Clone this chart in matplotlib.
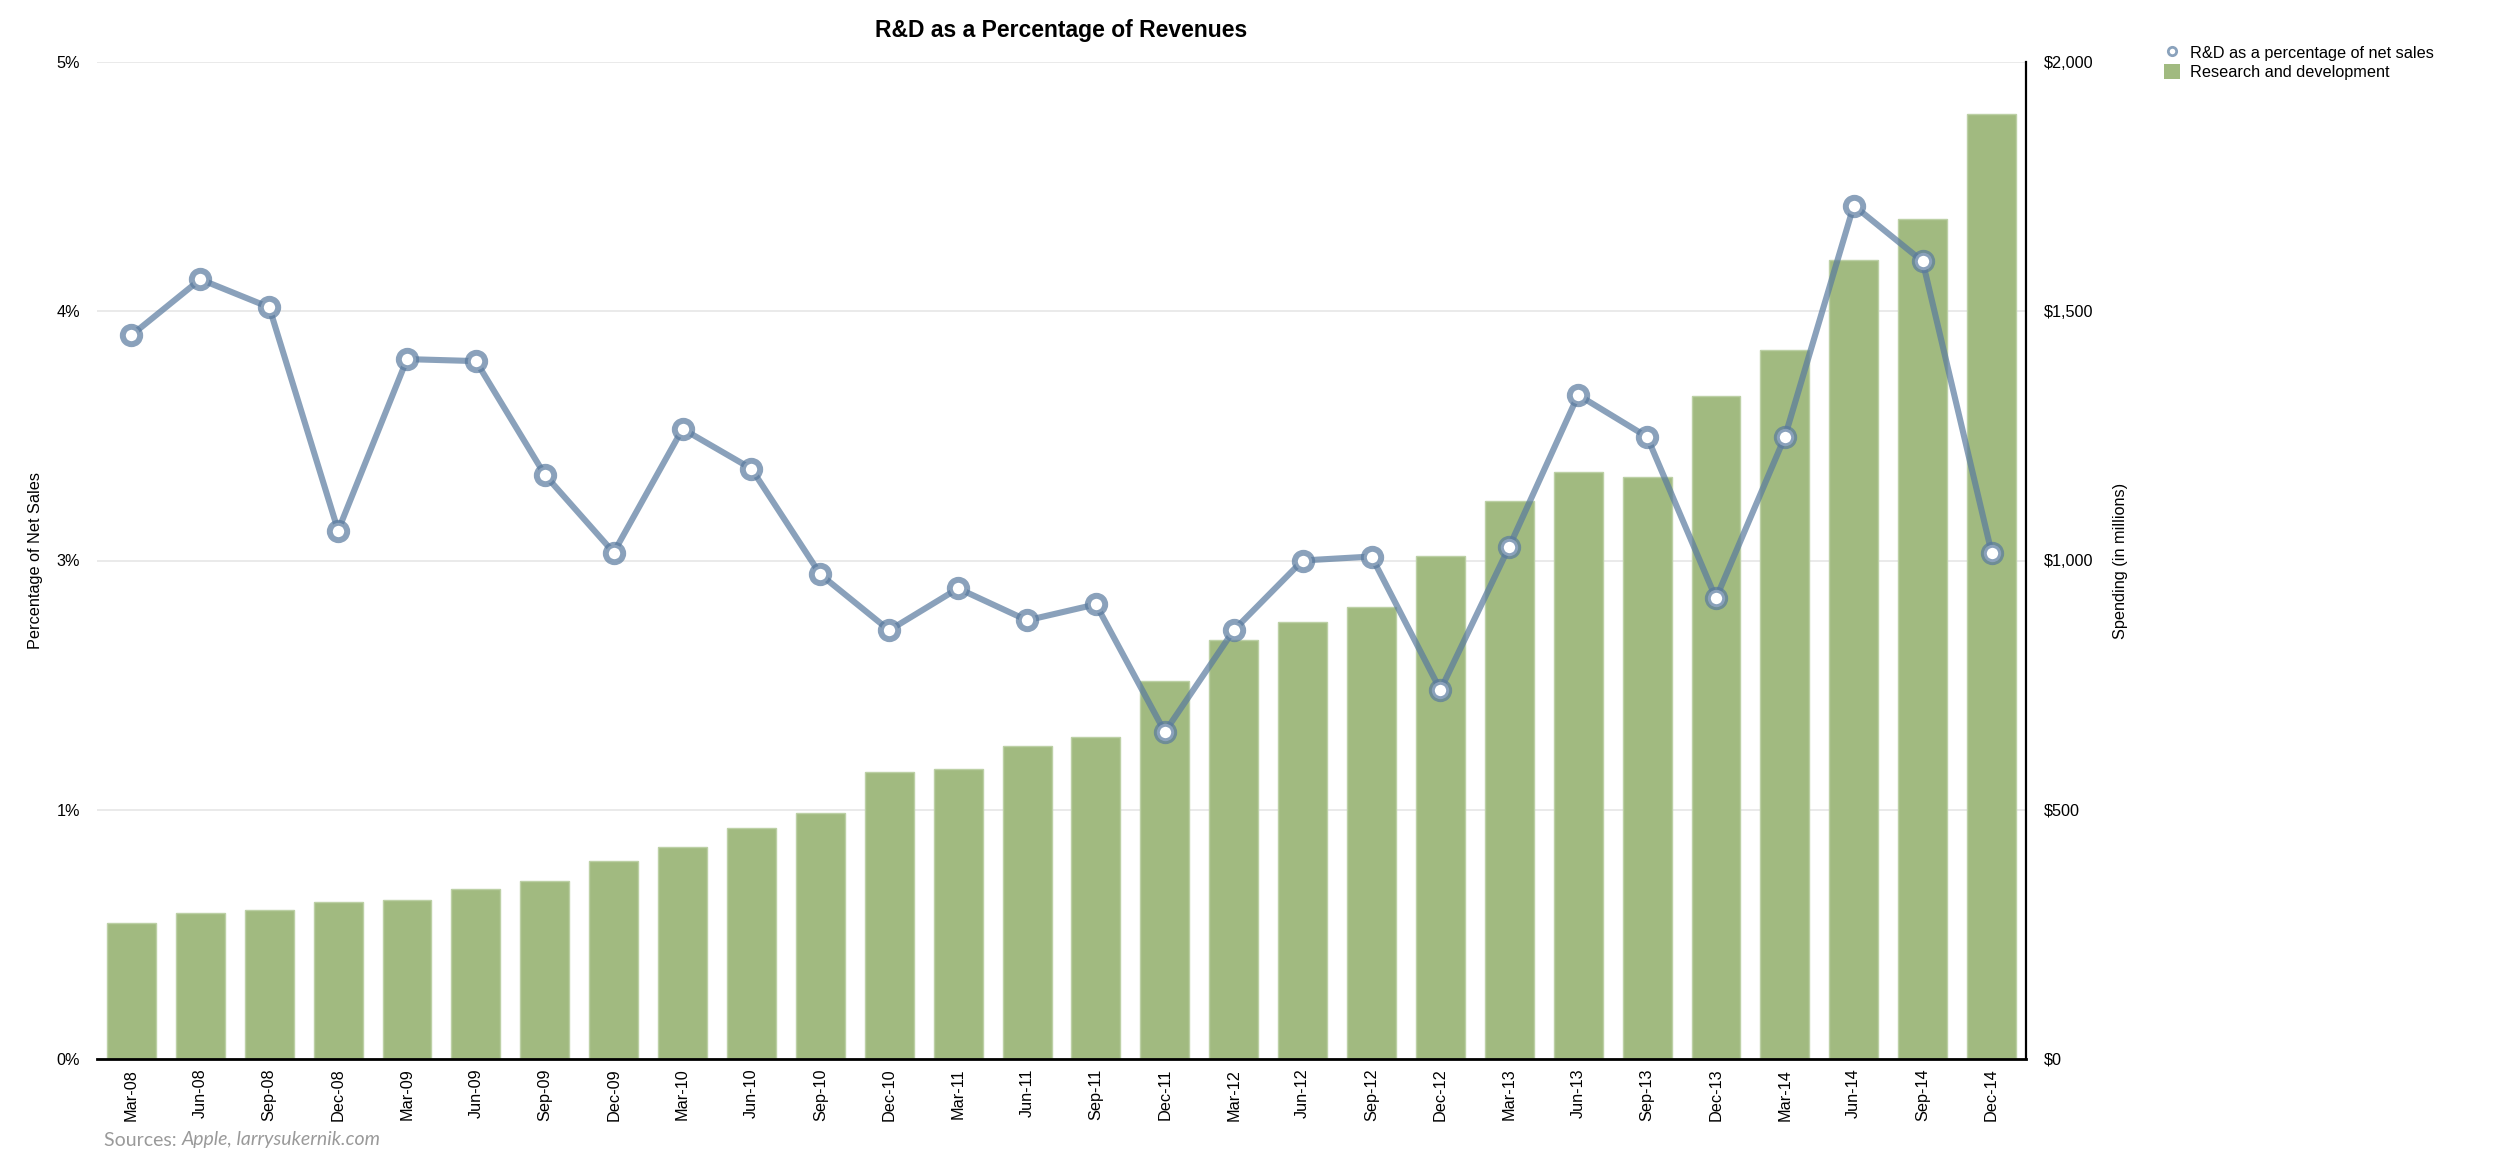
""" R&D as a percentage of revenues (Apple, quarterly 2008-2014).

    Bars: R&D spending in $M on the right axis.
    Line: R&D as a percentage of net sales on the left axis.
"""

import matplotlib
matplotlib.use('Agg')
import matplotlib.pyplot as plt
from matplotlib.lines import Line2D
from matplotlib.patches import Patch

plt.rcParams['font.family'] = ['Liberation Sans', 'DejaVu Sans']


########
# Data #
########
quarters = ['Mar-08', 'Jun-08', 'Sep-08', 'Dec-08',
            'Mar-09', 'Jun-09', 'Sep-09', 'Dec-09',
            'Mar-10', 'Jun-10', 'Sep-10', 'Dec-10',
            'Mar-11', 'Jun-11', 'Sep-11', 'Dec-11',
            'Mar-12', 'Jun-12', 'Sep-12', 'Dec-12',
            'Mar-13', 'Jun-13', 'Sep-13', 'Dec-13',
            'Mar-14', 'Jun-14', 'Sep-14', 'Dec-14']

# R&D as % of net sales
rd_pct = [3.63, 3.91, 3.77, 2.65, 3.51, 3.50, 2.93, 2.54,
          3.16, 2.96, 2.43, 2.15, 2.36, 2.20, 2.28, 1.64,
          2.15, 2.50, 2.52, 1.85, 2.57, 3.33, 3.12, 2.31,
          3.12, 4.28, 4.00, 2.54]

# R&D spending, $ millions
rd_spend = [273, 292, 298, 315, 319, 341, 358, 398,
            426, 464, 494, 575, 581, 628, 645, 758,
            841, 876, 906, 1010, 1119, 1178, 1168, 1330,
            1422, 1603, 1686, 1895]

# Axis ticks (left labels are rounded in the original)
pct_ticks = [0, 1.25, 2.5, 3.75, 5]
pct_labels = ['0%', '1%', '3%', '4%', '5%']
spend_ticks = [0, 500, 1000, 1500, 2000]
spend_labels = ['$0', '$500', '$1,000', '$1,500', '$2,000']


##########
# Styles #
##########
bar_color = '#a1ba80'
line_rgba = (0.35, 0.48, 0.62, 0.70)
fs = 11.7


########
# Plot #
########
fig = plt.figure(figsize=(25, 11.64), dpi=100)
ax2 = fig.add_axes([97 / 2500, 1 - 1059 / 1164, (2026 - 97) / 2500, (1059 - 62) / 1164])
ax = ax2.twinx()

x = list(range(len(quarters)))

# Bars (right axis, underneath)
ax2.bar(x, rd_spend, width=0.71, color=bar_color, edgecolor='#bcd0a5',
        linewidth=1, zorder=2)
ax2.set_ylim(0, 2000)
ax2.set_xlim(-0.5, len(quarters) - 0.5)
ax2.set_yticks(spend_ticks)
ax2.set_yticklabels(spend_labels)
ax2.yaxis.tick_right()
ax2.yaxis.set_label_position('right')
ax2.set_ylabel('Spending (in millions)', fontsize=fs, labelpad=14)
ax2.grid(axis='y', color='#e6e6e6', linewidth=1.2, zorder=0)
ax2.set_axisbelow(True)

# Line (left axis, on top)
ax.plot(x, rd_pct, color=line_rgba, linewidth=4.4, marker='o',
        markersize=12.5, markeredgewidth=4.3, markerfacecolor='white',
        markeredgecolor=line_rgba, solid_joinstyle='round', zorder=3)
ax.set_ylim(0, 5)
ax.set_yticks(pct_ticks)
ax.set_yticklabels(pct_labels)
ax.yaxis.tick_left()
ax.yaxis.set_label_position('left')
ax.set_ylabel('Percentage of Net Sales', fontsize=fs, labelpad=10)

ax2.set_xticks(x)
ax2.set_xticklabels(quarters, rotation=90, fontsize=fs)

# Spines and ticks
for a in (ax, ax2):
    for side in ['top', 'left', 'right', 'bottom']:
        a.spines[side].set_visible(False)
ax2.spines['bottom'].set_visible(True)
ax2.spines['bottom'].set_linewidth(2)
ax2.spines['right'].set_visible(True)
ax2.spines['right'].set_linewidth(1.6)
ax2.tick_params(axis='x', length=0, pad=7)
ax2.tick_params(axis='y', length=0, pad=13, labelsize=fs)
ax.tick_params(axis='y', length=0, pad=12, labelsize=fs)

# Title
ax.set_title('R&D as a Percentage of Revenues', fontsize=16.5,
             fontweight='bold', pad=18)

# Legend
handles = [Line2D([], [], linestyle='none', marker='o', markersize=6,
                  markerfacecolor='white', markeredgecolor='#8aa2bc',
                  markeredgewidth=2),
           Patch(facecolor=bar_color, edgecolor='none')]
fig.legend(handles, ['R&D as a percentage of net sales', 'Research and development'],
           loc='upper left', bbox_to_anchor=(2164 / 2500, 1 - 45 / 1164),
           frameon=False, fontsize=fs, handlelength=1.0, handleheight=1.0,
           handletextpad=0.6, labelspacing=0.2, borderpad=0, borderaxespad=0)

# Source
src = fig.text(104 / 2500, 1 - 1140 / 1164, 'Sources: ', color='#9a9a9a',
               fontsize=14, family='Lato', va='center')
ax.annotate('Apple, larrysukernik.com', xy=(1, 0.5), xycoords=src,
            va='center', ha='left', color='#9a9a9a', fontsize=14,
            family='Lato', style='italic', annotation_clip=False)

fig.savefig('out.png', dpi=100)
